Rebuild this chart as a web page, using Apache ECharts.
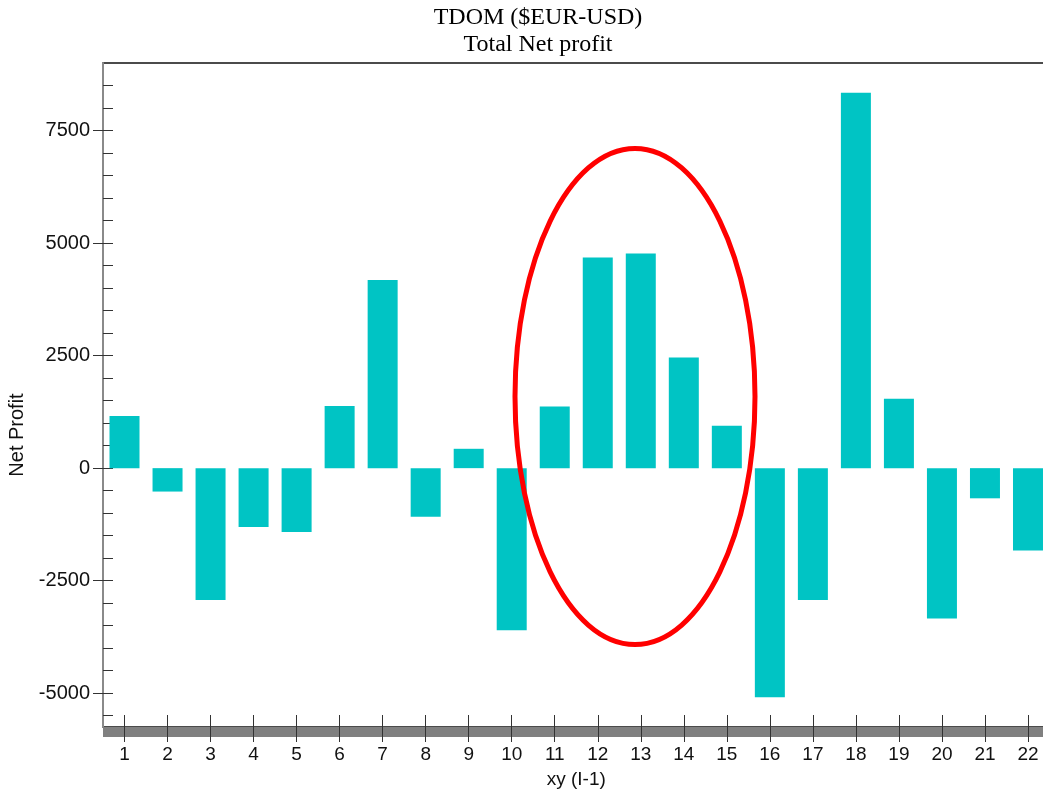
<!DOCTYPE html>
<html>
<head>
<meta charset="utf-8">
<script src="https://cdn.jsdelivr.net/npm/echarts@6/dist/echarts.min.js"></script>
<style>html,body{margin:0;padding:0;background:#fff}#c{width:1043px;height:793px}</style>
</head>
<body>
<div id="c"></div>
<script>
var categories = ['1','2','3','4','5','6','7','8','9','10','11','12','13','14','15','16','17','18','19','20','21','22'];
var netProfit = [1160, -520, -2930, -1310, -1420, 1380, 4180, -1080, 430, -3600, 1370, 4680, 4770, 2460, 940, -5090, -2930, 8340, 1540, -3340, -670, -1830];
var majorTicks = [-5000, -2500, 0, 2500, 5000, 7500];
var minorTicks = [-5500,-5000,-4500,-4000,-3500,-3000,-2500,-2000,-1500,-1000,-500,0,500,1000,1500,2000,2500,3000,3500,4000,4500,5000,5500,6000,6500,7000,7500,8000,8500];
var titleLines = ['TDOM ($EUR-USD)', 'Total Net profit'];

var chart = echarts.init(document.getElementById('c'), null, {renderer: 'canvas'});
var sans = 'Liberation Sans, Arial, sans-serif';
chart.setOption({
  animation: false,
  backgroundColor: '#fff',
  title: {
    text: titleLines.join('\n'),
    left: 538, top: 4, padding: 0, textAlign: 'center',
    textStyle: {fontFamily: 'Liberation Serif, Times New Roman, serif', fontWeight: 'normal', fontSize: 24, lineHeight: 27, color: '#000'}
  },
  grid: {left: 103, top: 63, bottom: 66, right: -6.5, outerBoundsMode: 'none', containLabel: false,
         show: true, borderColor: '#111', borderWidth: 1.5, backgroundColor: 'transparent'},
  xAxis: [{
    type: 'category', data: categories, position: 'bottom', offset: 5,
    axisLine: {show: true, onZero: false, lineStyle: {color: '#808080', width: 10, cap: 'butt'}},
    axisTick: {show: true, alignWithLabel: true, length: 10, lineStyle: {color: '#333', width: 1}},
    axisLabel: {fontFamily: sans, fontSize: 19, color: '#111', margin: 13},
    name: 'xy (I-1)', nameLocation: 'middle', nameGap: 38,
    nameTextStyle: {fontFamily: sans, fontSize: 19, color: '#111'},
    splitLine: {show: false}
  }, {
    type: 'category', data: categories, position: 'bottom', offset: 5,
    axisLine: {show: false, onZero: false},
    axisTick: {show: true, inside: true, alignWithLabel: true, length: 17, lineStyle: {color: '#333', width: 1}},
    axisLabel: {show: false}, splitLine: {show: false}
  }],
  yAxis: [{
    type: 'value', min: -5750, max: 9000, position: 'left',
    axisLine: {show: true, lineStyle: {color: '#8a8a8a', width: 2}},
    axisTick: {show: true, length: 10, customValues: majorTicks, lineStyle: {color: '#333', width: 1}},
    axisLabel: {customValues: majorTicks, formatter: function (v) { return String(v); },
                fontFamily: sans, fontSize: 20, color: '#111', margin: 13},
    splitLine: {show: false},
    name: 'Net Profit', nameLocation: 'middle', nameRotate: 90, nameGap: 73,
    nameTextStyle: {fontFamily: sans, fontSize: 20, color: '#111', padding: [0, 80, 0, 0]}
  }, {
    type: 'value', min: -5750, max: 9000, position: 'left', offset: 0,
    axisLine: {show: false},
    axisTick: {show: true, inside: true, length: 10, customValues: minorTicks, lineStyle: {color: '#333', width: 1}},
    axisLabel: {show: false}, splitLine: {show: false}
  }],
  series: [{
    type: 'bar', data: netProfit, xAxisIndex: 0, yAxisIndex: 0, barWidth: 30,
    itemStyle: {color: '#00c4c4'}
  }],
  graphic: [{
    type: 'ellipse', shape: {cx: 635, cy: 396.5, rx: 120, ry: 248},
    style: {fill: null, stroke: '#ff0000', lineWidth: 5}, z: 100
  }]
});
</script>
</body>
</html>
